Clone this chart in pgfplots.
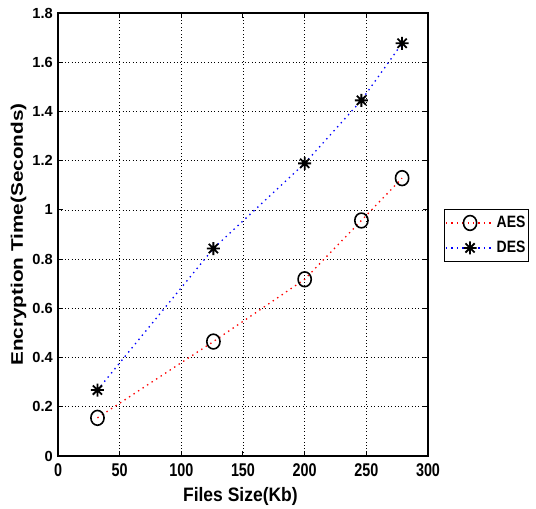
\documentclass[border=0pt]{standalone}
\usepackage{fontspec}
\setmainfont{Liberation Sans}
\newfontfamily\xtickfont[FakeStretch=0.78]{Liberation Sans}
\newfontfamily\xlabfont[FakeStretch=0.9]{Liberation Sans}
\newfontfamily\ylabfont[FakeStretch=1.24]{Liberation Sans}
\newfontfamily\legfont[FakeStretch=0.85]{Liberation Sans}
\usepackage{pgfplots}
\pgfplotsset{compat=1.18}
\pgfdeclareplotmark{star8}{%
 \pgfpathmoveto{\pgfqpoint{-\pgfplotmarksize}{0pt}}\pgfpathlineto{\pgfqpoint{\pgfplotmarksize}{0pt}}%
 \pgfpathmoveto{\pgfqpoint{0pt}{-\pgfplotmarksize}}\pgfpathlineto{\pgfqpoint{0pt}{\pgfplotmarksize}}%
 \pgfpathmoveto{\pgfqpoint{-0.707\pgfplotmarksize}{-0.707\pgfplotmarksize}}\pgfpathlineto{\pgfqpoint{0.707\pgfplotmarksize}{0.707\pgfplotmarksize}}%
 \pgfpathmoveto{\pgfqpoint{-0.707\pgfplotmarksize}{0.707\pgfplotmarksize}}\pgfpathlineto{\pgfqpoint{0.707\pgfplotmarksize}{-0.707\pgfplotmarksize}}%
 \pgfusepathqstroke}
\begin{document}
\begin{tikzpicture}
\begin{axis}[
  at={(0,0)}, anchor=south west,
  scale only axis, width=370bp, height=443bp,
  xmin=0, xmax=300, ymin=0, ymax=1.8,
  xtick={0,50,100,150,200,250,300},
  ytick={0,0.2,0.4,0.6,0.8,1,1.2,1.4,1.6,1.8},
  tick align=inside, major tick length=5bp,
  xtick pos=both, ytick pos=both,
  axis line style={line width=1.6bp},
  every tick/.style={black, line width=1bp},
  grid=major,
  major grid style={black, line width=0.6bp, dash pattern=on 0.8bp off 2.6bp},
  /pgf/number format/assume math mode=true,
  xticklabel style={font=\xtickfont\bfseries\fontsize{18.5}{20}\selectfont, inner sep=0pt, yshift=-7bp},
  yticklabel style={font=\bfseries\fontsize{14.7}{17}\selectfont, inner sep=0pt, xshift=-5bp},
  xlabel={Files Size(Kb)},
  ylabel={Encryption Time(Seconds)},
  xlabel style={font=\xlabfont\bfseries\fontsize{19.5}{22}\selectfont, at={(axis description cs:0.493,-0.103)}, anchor=base, inner sep=0pt},
  ylabel style={font=\ylabfont\bfseries\fontsize{16.8}{19}\selectfont, at={(axis description cs:-0.0946,0.5)}, anchor=base, inner sep=0pt},
  legend style={at={(rel axis cs:1.043,0.5576)}, anchor=north west, draw=black, line width=1bp,
    font=\legfont\bfseries\fontsize{16.5}{19}\selectfont, cells={anchor=west},
    inner xsep=1bp, inner ysep=5bp, row sep=8bp},
  legend image code/.code={\draw[#1,mark repeat=2,mark phase=2] plot coordinates {(0bp,0bp) (24bp,0bp) (48bp,0bp)};},
]
\addplot[red, line width=1.3bp, dash pattern=on 1.4bp off 4bp, mark=o, mark size=6.6bp,
  mark options={solid, black, line width=1.6bp, yscale=1.12}]
  coordinates {(32,0.155) (126,0.465) (200,0.718) (246,0.957) (279,1.129)};
\addlegendentry{AES}
\addplot[blue, line width=1.3bp, dash pattern=on 1.4bp off 4bp, mark=star8, mark size=6.5bp,
  mark options={solid, black, line width=1.8bp}]
  coordinates {(32,0.268) (126,0.843) (200,1.189) (246,1.445) (279,1.677)};
\addlegendentry{DES}
\end{axis}
\path[use as bounding box] (-58bp,-53bp) rectangle (478bp,456bp);
\end{tikzpicture}
\end{document}
